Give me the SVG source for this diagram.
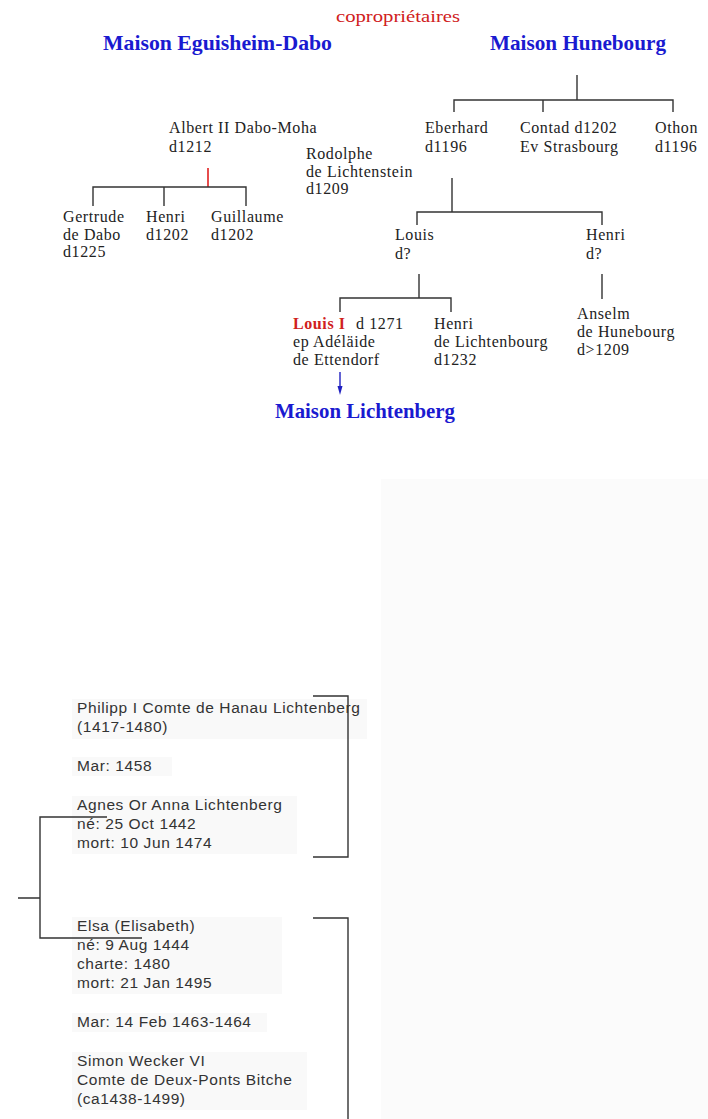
<svg xmlns="http://www.w3.org/2000/svg" width="708" height="1119" viewBox="0 0 708 1119">
<style>
.t{font-family:"Liberation Serif",serif;font-size:16px;letter-spacing:0.6px;fill:#222}
.s{font-family:"Liberation Sans",Arial,sans-serif;font-size:15.5px;letter-spacing:0.6px;fill:#333}
.bl{font-family:"Liberation Serif",serif;font-size:21px;font-weight:bold;fill:#1a1ad0}
.l{stroke:#333;stroke-width:1.4;fill:none}
.bg{fill:#f9f9f9}
</style>
<rect width="708" height="1119" fill="#fff"/>
<rect x="381" y="479" width="327" height="640" fill="#fbfbfb"/>
<text x="336" y="22" textLength="124" lengthAdjust="spacingAndGlyphs" font-family="Liberation Serif,serif" font-size="17" fill="#d02020">copropriétaires</text>
<g id="eguisheim"><text class="bl" x="103" y="50" textLength="229" lengthAdjust="spacingAndGlyphs">Maison Eguisheim-Dabo</text></g>
<g id="hunebourg"><text class="bl" x="490" y="50" textLength="176" lengthAdjust="spacingAndGlyphs">Maison Hunebourg</text></g>
<g id="eberhard"><text class="t" x="425" y="133">Eberhard</text><text class="t" x="425" y="152">d1196</text></g>
<g id="contad"><text class="t" x="520" y="133">Contad d1202</text><text class="t" x="520" y="152">Ev Strasbourg</text></g>
<g id="othon"><text class="t" x="655" y="133">Othon</text><text class="t" x="655" y="152">d1196</text></g>
<g id="albert"><text class="t" x="169" y="133">Albert II Dabo-Moha</text><text class="t" x="169" y="152">d1212</text></g>
<g id="rodolphe"><text class="t" x="306" y="159">Rodolphe</text><text class="t" x="306" y="177">de Lichtenstein</text><text class="t" x="306" y="194">d1209</text></g>
<g id="gertrude"><text class="t" x="63" y="222">Gertrude</text><text class="t" x="63" y="240">de Dabo</text><text class="t" x="63" y="257">d1225</text></g>
<g id="henri1"><text class="t" x="146" y="222">Henri</text><text class="t" x="146" y="240">d1202</text></g>
<g id="guillaume"><text class="t" x="211" y="222">Guillaume</text><text class="t" x="211" y="240">d1202</text></g>
<g id="louis"><text class="t" x="395" y="240">Louis</text><text class="t" x="395" y="259">d?</text></g>
<g id="henri2"><text class="t" x="586" y="240">Henri</text><text class="t" x="586" y="259">d?</text></g>
<g id="louis1"><text class="t" x="293" y="329"><tspan fill="#d02020" font-weight="bold">Louis I</tspan></text><text class="t" x="356" y="329">d 1271</text><text class="t" x="293" y="347">ep Adéläide</text><text class="t" x="293" y="365">de Ettendorf</text></g>
<g id="henri3"><text class="t" x="434" y="329">Henri</text><text class="t" x="434" y="347">de Lichtenbourg</text><text class="t" x="434" y="365">d1232</text></g>
<g id="anselm"><text class="t" x="577" y="319">Anselm</text><text class="t" x="577" y="337">de Hunebourg</text><text class="t" x="577" y="355">d&gt;1209</text></g>
<g id="lichtenberg"><text class="bl" x="275" y="418" textLength="180" lengthAdjust="spacingAndGlyphs">Maison Lichtenberg</text></g>
<g id="philipp"><rect class="bg" x="72" y="699" width="295" height="40"/><rect class="bg" x="72" y="757" width="100" height="19"/><rect class="bg" x="72" y="796" width="225" height="58"/>
<text class="s" x="77" y="713">Philipp I Comte de Hanau Lichtenberg</text><text class="s" x="77" y="732">(1417-1480)</text><text class="s" x="77" y="771">Mar: 1458</text><text class="s" x="77" y="810">Agnes Or Anna Lichtenberg</text><text class="s" x="77" y="829">né: 25 Oct 1442</text><text class="s" x="77" y="848">mort: 10 Jun 1474</text></g>
<g id="elsa"><rect class="bg" x="72" y="917" width="210" height="77"/><rect class="bg" x="72" y="1013" width="195" height="19"/><rect class="bg" x="72" y="1052" width="235" height="58"/>
<text class="s" x="77" y="931">Elsa (Elisabeth)</text><text class="s" x="77" y="950">né: 9 Aug 1444</text><text class="s" x="77" y="969">charte: 1480</text><text class="s" x="77" y="988">mort: 21 Jan 1495</text><text class="s" x="77" y="1027">Mar: 14 Feb 1463-1464</text><text class="s" x="77" y="1066">Simon Wecker VI</text><text class="s" x="77" y="1085">Comte de Deux-Ponts Bitche</text><text class="s" x="77" y="1104">(ca1438-1499)</text></g>
<g id="connectors">
<path class="l" d="M577,75 V100 M454,112 V100 H673 V112 M543,100 V112"/>
<path d="M208,168 V187" stroke="#e02020" stroke-width="1.6"/>
<path class="l" d="M93,206 V187 H246 V206 M164,187 V206"/>
<path class="l" d="M452,178 V212 M417,225 V212 H602 V225"/>
<path class="l" d="M419,274 V298 M340,312 V298 H451 V312"/>
<path class="l" d="M602,274 V299"/>
<path d="M340,372 V388" stroke="#2020c0" stroke-width="1.4"/>
<path d="M337.5,386 L342.5,386 L340,395 z" fill="#2020c0"/>
<path class="l" d="M313,696 H348 V857 H313"/>
<path class="l" d="M107,817 H40 V938 H142 M18,898 H40"/>
<path class="l" d="M313,918 H348 V1119"/>
</g>
</svg>
